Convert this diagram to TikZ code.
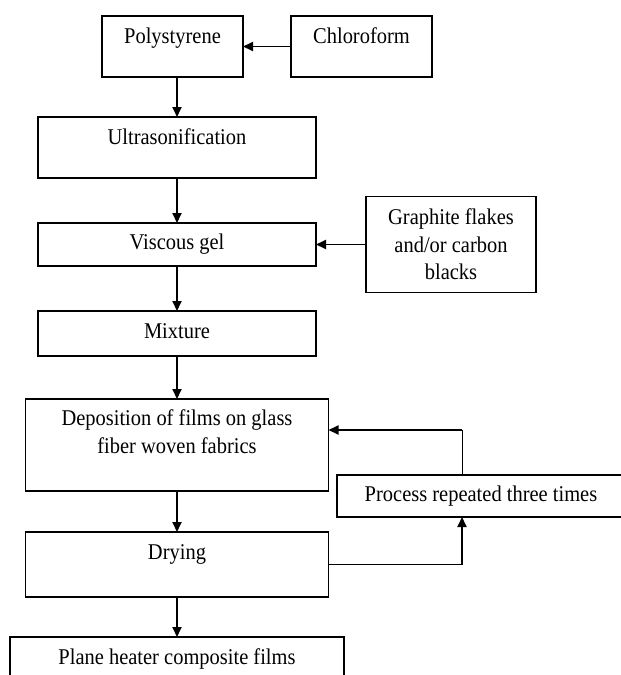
\documentclass[tikz,border=0pt]{standalone}
\usepackage{fontspec}
\setmainfont{Liberation Serif}[FakeStretch=0.91]
\usetikzlibrary{positioning,arrows.meta}

\begin{document}
\begin{tikzpicture}[auto, node distance=42pt and 48pt,
    font=\fontsize{22.5}{27.5}\selectfont,
    stepbox/.style={draw, rectangle, line width=1.8pt, align=center, inner sep=0pt, outer sep=0pt},
    topbox/.style={stepbox, text height=27pt, text depth=#1},
    arrow/.style={-{Triangle[length=10pt,width=9pt]}, line width=1.8pt},
    thinline/.style={line width=1pt}]

\path[use as bounding box, clip] (0,0) rectangle (621pt,-675pt);

\node [topbox=34pt, minimum width=141pt, anchor=north] (poly) at (172.5pt,-16pt) {Polystyrene};
\node [topbox=34pt, minimum width=141pt, right=48pt of poly] (chloro) {Chloroform};
\node [topbox=34pt, minimum width=278pt, below=40pt of poly, xshift=4.5pt] (ultra) {Ultrasonification};
\node [stepbox, minimum width=278pt, minimum height=43pt, below=45pt of ultra] (gel) {Viscous gel};
\node [stepbox, minimum width=170pt, minimum height=96pt, right=50pt of gel] (graphite) {Graphite flakes\\and/or carbon\\blacks};
\node [topbox=18pt, minimum width=278pt, below=45pt of gel] (mix) {Mixture};
\node [stepbox, text height=54pt, text depth=38pt, minimum width=303pt, below=43pt of mix] (depo) {Deposition of films on glass\\fiber woven fabrics};
\node [topbox=38pt, minimum width=303pt, below=41pt of depo] (dry) {Drying};
\node [topbox=13pt, minimum width=334pt, below=40pt of dry] (film) {Plane heater composite films};
\node [stepbox, minimum width=288pt, minimum height=42pt] (repeat) at (481pt,-496pt) {Process repeated three times};

\draw [arrow] (chloro.west) -- (poly.east);
\draw [arrow] (ultra.north |- poly.south) -- (ultra.north);
\draw [arrow] (ultra) -- (gel);
\draw [arrow] (graphite.west |- gel.east) -- (gel.east);
\draw [arrow] (gel) -- (mix);
\draw [arrow] (mix) -- (depo);
\draw [arrow] (depo) -- (dry);
\draw [arrow] (dry) -- (film);

% Repetition loop
\coordinate (turn) at (462pt,-430pt);
\draw [thinline] (repeat.north -| turn) -- (turn);
\draw [arrow] (turn) -- (turn -| depo.east);
\draw [arrow] (dry.east) -| (repeat.south -| turn);

\end{tikzpicture}
\end{document}
